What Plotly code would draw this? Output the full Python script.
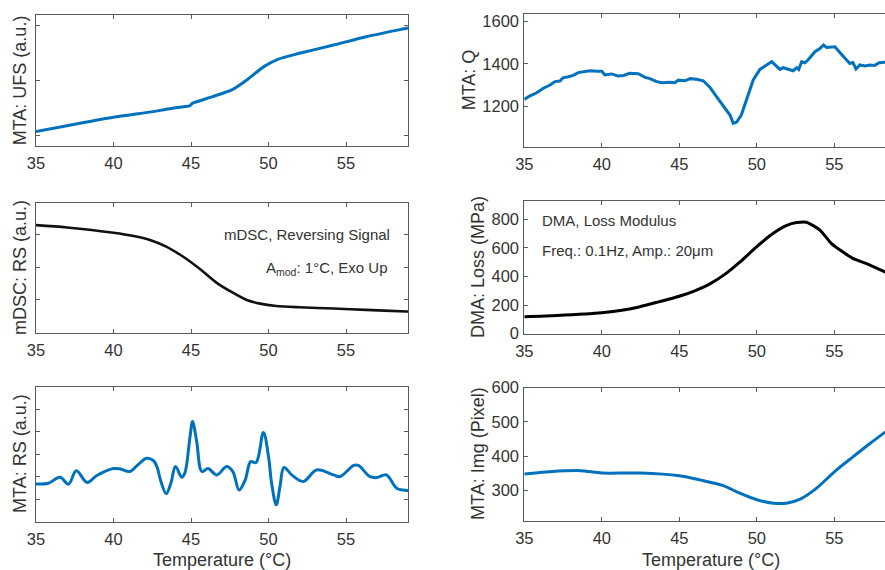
import plotly.graph_objects as go

# ---------------- data ----------------
ufs_T = [35.0, 37.0, 40.0, 42.57, 43.4, 44.6, 44.9, 45.1, 46.4, 47.7, 48.6, 49.7, 50.6, 52.0, 54.2, 56.3, 58.9, 59.0]
ufs_v = [0.073, 0.18, 0.333, 0.436, 0.479, 0.527, 0.539, 0.588, 0.709, 0.842, 1.012, 1.255, 1.388, 1.497, 1.648, 1.80, 1.952, 1.958]

q_T = [35.0, 35.37, 35.8, 36.23, 36.66, 36.98, 37.3, 37.5, 37.84, 38.16, 38.48, 38.8, 39.24, 39.67, 40.0,
       40.2, 40.63, 41.06, 41.4, 41.8, 42.35, 42.8, 43.1, 43.5, 43.86, 44.4, 44.7, 44.94, 45.37, 45.7,
       46.1, 46.55, 46.98, 47.4, 47.84, 48.27, 48.48, 48.7, 49.0, 49.34, 49.77, 50.2, 50.63, 50.96,
       51.3, 51.5, 51.7, 52.14, 52.35, 52.57, 52.7, 52.9, 53.1, 53.3, 53.75, 54.07, 54.3, 54.5, 55.04,
       55.37, 55.7, 56.0, 56.2, 56.4, 56.65, 57.0, 57.3, 57.6, 57.9, 58.3]
q_v = [1234, 1251, 1265, 1286, 1301, 1317, 1320, 1335, 1340, 1346, 1359, 1363, 1368, 1365, 1365,
       1348, 1353, 1343, 1346, 1356, 1354, 1337, 1331, 1318, 1312, 1314, 1312, 1324, 1321, 1331,
       1328, 1321, 1290, 1247, 1203, 1161, 1122, 1128, 1161, 1231, 1325, 1374, 1395, 1410,
       1387, 1374, 1382, 1374, 1368, 1382, 1374, 1410, 1405, 1418, 1457, 1472, 1488, 1477, 1480,
       1452, 1426, 1402, 1406, 1376, 1395, 1390, 1395, 1393, 1405, 1408]

dsc_T = [35.0, 37.0, 40.0, 41.3, 42.35, 43.4, 44.5, 45.6, 46.66, 47.7, 48.6, 49.45, 50.5, 52.0, 54.2, 56.3, 58.9, 59.0]
dsc_v = [2.27, 2.20, 2.04, 1.94, 1.82, 1.62, 1.31, 0.93, 0.52, 0.22, 0.0, -0.11, -0.18, -0.22, -0.26, -0.30, -0.35, -0.35]

dma_T = [35.0, 37.1, 40.0, 41.4, 42.46, 43.5, 45.0, 46.0, 47.0, 48.0, 48.9, 50.0, 51.06, 51.9, 52.57, 53.2, 54.07, 54.8, 55.37, 56.2, 57.3, 58.3]
dma_v = [119, 128, 147, 166, 189, 218, 262, 300, 350, 420, 500, 609, 702, 756, 777, 779, 725, 632, 585, 527, 480, 430]

rs_T = [35.0, 35.8, 36.55, 37.1, 37.6, 38.3, 38.9, 40.0, 40.4, 41.06, 41.5, 42.14, 42.57, 42.8, 43.06, 43.4,
        43.7, 44.0, 44.4, 44.6, 44.94, 45.1, 45.37, 45.7, 46.1, 46.66, 47.3, 47.7, 48.1, 48.5, 48.85, 49.2,
        49.67, 50.0, 50.2, 50.5, 50.74, 51.0, 51.5, 52.25, 53.1, 54.2, 54.6, 55.5, 55.8, 56.55, 57.0, 57.6,
        58.27, 58.9, 59.0]
rs_v = [0.68, 0.71, 0.98, 0.67, 1.26, 0.74, 1.04, 1.36, 1.35, 1.23, 1.48, 1.82, 1.72, 1.45, 0.79, 0.24,
        0.71, 1.45, 0.98, 1.16, 2.79, 3.45, 2.56, 1.23, 1.36, 1.08, 1.45, 1.23, 0.41, 0.86, 1.67, 1.63,
        2.96, 1.90, 0.71, -0.25, 0.56, 1.41, 1.08, 0.79, 1.30, 1.08, 1.00, 1.50, 1.50, 1.00, 0.96, 1.08,
        0.49, 0.39, 0.39]

img_T = [35.0, 36.66, 38.6, 40.0, 42.46, 45.0, 46.33, 47.84, 48.9, 50.0, 51.06, 51.9, 52.8, 53.86, 55.04, 56.2, 57.3, 58.3]
img_v = [348, 355, 358, 351, 351, 343, 331, 314, 292, 273, 263, 263, 275, 307, 356, 398, 437, 471]

x_ticks = [35, 40, 45, 50, 55]
q_ticks = [1200, 1400, 1600]
dma_ticks = [0, 200, 400, 600, 800]
img_ticks = [300, 400, 500, 600]

# ---------------- styling ----------------
W, H = 885, 570
BLUE = "#0072BD"
AX = "#5a5a5a"
TXT = "#333333"
FONT = "Liberation Sans, Arial, sans-serif"
TICKF = dict(family=FONT, size=16.5, color=TXT)


def px_x(p):
    return p / W


def px_y(p):
    return 1 - p / H


fig = go.Figure()

panels = [
    ("1", ufs_T, ufs_v, BLUE, (36, 408), (14.7, 146.0), [35, 59], [-0.19, 2.2], [0, 1, 2], False, True, "spline", 3, 0.6),
    ("2", q_T, q_v, BLUE, (524.3, 885), (14.0, 146.7), [35, 58.27], [1013, 1633], q_ticks, True, False, "linear", 3, 0),
    ("3", dsc_T, dsc_v, "#111111", (36, 408), (202.7, 333.3), [35, 59], [-1.01, 2.95], [0, 1, 2], False, True, "spline", 2.6, 0.8),
    ("4", dma_T, dma_v, "#000000", (524.3, 885), (201.0, 333.7), [35, 58.27], [0, 928], dma_ticks, True, False, "spline", 3, 0.6),
    ("5", rs_T, rs_v, BLUE, (36, 408), (386.7, 521.7), [35, 59], [-1.0, 5.0], [0, 1, 2, 3, 4], False, True, "spline", 3, 1.0),
    ("6", img_T, img_v, BLUE, (524.3, 885), (387.7, 521.0), [35, 58.27], [211, 600], img_ticks, True, False, "spline", 3, 0.8),
]

layout = dict(
    width=W, height=H,
    margin=dict(l=0, r=0, t=0, b=0, autoexpand=False),
    paper_bgcolor="white", plot_bgcolor="white",
    showlegend=False,
    font=dict(family=FONT, color=TXT),
)

for name, T, v, col, xd, yd, xr, yr, ytv, ylab, leftcol, shape, lw, sm in panels:
    xa = "xaxis" if name == "1" else f"xaxis{name}"
    ya = "yaxis" if name == "1" else f"yaxis{name}"
    xref = "x" if name == "1" else f"x{name}"
    yref = "y" if name == "1" else f"y{name}"
    line = dict(color=col, width=lw, shape=shape)
    if shape == "spline":
        line["smoothing"] = sm
    fig.add_trace(go.Scatter(x=T, y=v, mode="lines", line=line,
                             xaxis=xref, yaxis=yref, hoverinfo="skip"))
    layout[xa] = dict(
        domain=[px_x(xd[0]), px_x(xd[1])], range=xr, anchor=yref,
        tickvals=x_ticks, ticks="inside", ticklen=4, tickcolor=AX, tickwidth=1,
        showline=True, linecolor=AX, linewidth=1, mirror="allticks",
        showgrid=False, zeroline=False, tickfont=TICKF, ticklabelstandoff=2,
        automargin=False,
    )
    layout[ya] = dict(
        domain=[px_y(yd[1]), px_y(yd[0])], range=yr, anchor=xref,
        tickvals=ytv, ticks="inside", ticklen=4, tickcolor=AX, tickwidth=1,
        showline=True, linecolor=AX, linewidth=1, mirror="allticks" if leftcol else False,
        showgrid=False, zeroline=False, tickfont=TICKF, showticklabels=ylab, ticklabelstandoff=1,
        automargin=False,
    )

fig.update_layout(**layout)

ytitles = [
    ("MTA: UFS (a.u.)", 20, 80.3),
    ("MTA: Q", 469, 80.3),
    ("mDSC: RS (a.u.)", 20, 268),
    ("DMA: Loss (MPa)", 478, 267),
    ("MTA: RS (a.u.)", 20, 454),
    ("MTA: Img (Pixel)", 478, 454),
]
for t, xp, yp in ytitles:
    fig.add_annotation(text=t, x=px_x(xp), y=px_y(yp), xref="paper", yref="paper",
                       textangle=-90, showarrow=False, xanchor="center", yanchor="middle",
                       font=dict(family=FONT, size=18, color=TXT))

for xp in (221.5, 711):
    fig.add_annotation(text="Temperature (°C)", x=px_x(xp), y=px_y(560), xref="paper", yref="paper",
                       showarrow=False, xanchor="center", yanchor="middle",
                       font=dict(family=FONT, size=18, color=TXT))

fig.add_annotation(text="mDSC, Reversing Signal", x=px_x(392), y=px_y(235), xref="paper", yref="paper",
                   showarrow=False, xanchor="right", yanchor="middle", font=dict(family=FONT, size=15, color=TXT))
fig.add_annotation(text="A<sub>mod</sub>: 1°C, Exo Up", x=px_x(390), y=px_y(268), xref="paper", yref="paper",
                   showarrow=False, xanchor="right", yanchor="middle", font=dict(family=FONT, size=15, color=TXT))
fig.add_annotation(text="DMA, Loss Modulus", x=px_x(540), y=px_y(220.7), xref="paper", yref="paper",
                   showarrow=False, xanchor="left", yanchor="middle", font=dict(family=FONT, size=15, color=TXT))
fig.add_annotation(text="Freq.: 0.1Hz, Amp.: 20μm", x=px_x(540), y=px_y(250), xref="paper", yref="paper",
                   showarrow=False, xanchor="left", yanchor="middle", font=dict(family=FONT, size=15, color=TXT))

fig.write_html("out.html",
               config={"displayModeBar": False},
               post_script="document.body.style.margin='0';document.body.style.padding='0';"
                           "document.body.style.overflow='hidden';")
